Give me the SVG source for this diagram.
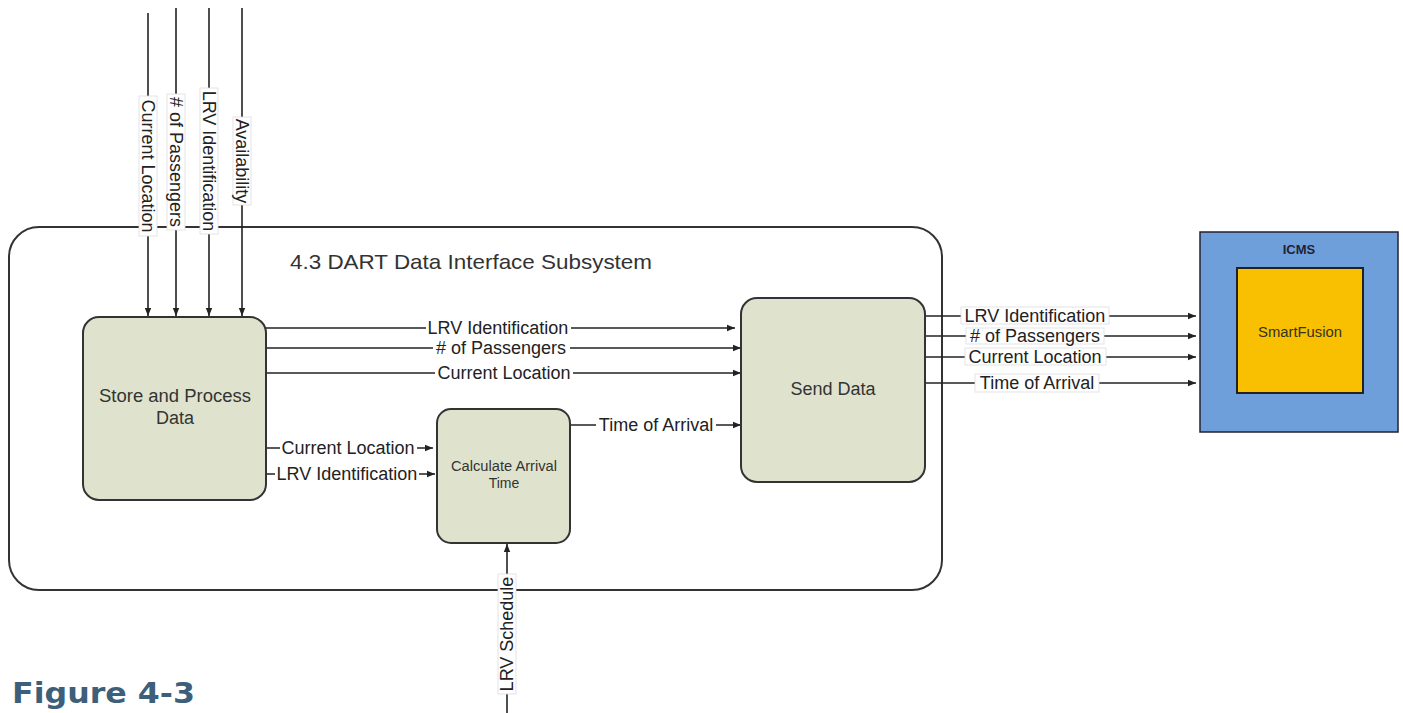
<svg xmlns="http://www.w3.org/2000/svg" width="1403" height="713" viewBox="0 0 1403 713">
<style>
.box{fill:#dfe3cd;stroke:#333;stroke-width:2}
.ln{stroke:#222;stroke-width:1.6;fill:none}
.lb{font-family:"Liberation Sans",Arial,sans-serif;font-size:18px;fill:#222;text-anchor:middle}
.bg{fill:#fff;stroke:#ddd;stroke-width:0.8}
.nt{font-family:"Liberation Sans",Arial,sans-serif;fill:#333;text-anchor:middle}
</style>
<defs>
<marker id="ah" viewBox="0 0 10 10" refX="10" refY="5" markerWidth="8" markerHeight="8" markerUnits="userSpaceOnUse" orient="auto">
<path d="M0,1 L10,5 L0,9 z" fill="#222"/>
</marker>
</defs>
<rect width="1403" height="713" fill="#fff"/>

<g id="subsystem">
<rect x="9" y="227" width="933" height="363" rx="30" fill="none" stroke="#333" stroke-width="2"/>
<text x="290" y="269" class="nt" style="font-size:21px;text-anchor:start;fill:#333" textLength="362" lengthAdjust="spacingAndGlyphs">4.3 DART Data Interface Subsystem</text>
</g>

<g id="connectors">
<!-- top inputs -->
<line class="ln" x1="148" y1="13" x2="148" y2="316" marker-end="url(#ah)"/>
<line class="ln" x1="176" y1="8" x2="176" y2="316" marker-end="url(#ah)"/>
<line class="ln" x1="209" y1="8" x2="209" y2="316" marker-end="url(#ah)"/>
<line class="ln" x1="242" y1="8" x2="242" y2="316" marker-end="url(#ah)"/>
<g transform="translate(148,166) rotate(90)"><rect class="bg" x="-70" y="-9" width="140" height="18"/><text class="lb" x="0" y="6">Current Location</text></g>
<g transform="translate(176,162) rotate(90)"><rect class="bg" x="-68" y="-9" width="136" height="18"/><text class="lb" x="0" y="6"># of Passengers</text></g>
<g transform="translate(209,161) rotate(90)"><rect class="bg" x="-73" y="-9" width="146" height="18"/><text class="lb" x="0" y="6">LRV Identification</text></g>
<g transform="translate(242,161) rotate(90)"><rect class="bg" x="-44" y="-9" width="88" height="18"/><text class="lb" x="0" y="6">Availability</text></g>

<!-- store -> send -->
<line class="ln" x1="266" y1="328" x2="735" y2="328" marker-end="url(#ah)"/>
<line class="ln" x1="266" y1="348" x2="741" y2="348" marker-end="url(#ah)"/>
<line class="ln" x1="266" y1="373" x2="741" y2="373" marker-end="url(#ah)"/>
<rect class="bg" x="426" y="320" width="145" height="16" style="stroke:none"/><text class="lb" x="498" y="334">LRV Identification</text>
<rect class="bg" x="433" y="340" width="137" height="16" style="stroke:none"/><text class="lb" x="501" y="354"># of Passengers</text>
<rect class="bg" x="435" y="365" width="138" height="16" style="stroke:none"/><text class="lb" x="504" y="379">Current Location</text>

<!-- store -> calc -->
<line class="ln" x1="266" y1="448" x2="433" y2="448" marker-end="url(#ah)"/>
<line class="ln" x1="266" y1="474" x2="435" y2="474" marker-end="url(#ah)"/>
<rect class="bg" x="280" y="440" width="137" height="16" style="stroke:none"/><text class="lb" x="348" y="454">Current Location</text>
<rect class="bg" x="275" y="466" width="144" height="16" style="stroke:none"/><text class="lb" x="347" y="480">LRV Identification</text>

<!-- calc -> send -->
<line class="ln" x1="570" y1="425" x2="741" y2="425" marker-end="url(#ah)"/>
<rect class="bg" x="596" y="417" width="120" height="16" style="stroke:none"/><text class="lb" x="656" y="431">Time of Arrival</text>

<!-- schedule -> calc -->
<line class="ln" x1="507" y1="713" x2="507" y2="544" marker-end="url(#ah)"/>
<g transform="translate(507,634) rotate(-90)"><rect class="bg" x="-60" y="-9" width="120" height="18"/><text class="lb" x="0" y="6">LRV Schedule</text></g>

<!-- send -> ICMS -->
<line class="ln" x1="925" y1="316" x2="1196" y2="316" marker-end="url(#ah)"/>
<line class="ln" x1="925" y1="336" x2="1196" y2="336" marker-end="url(#ah)"/>
<line class="ln" x1="925" y1="357" x2="1196" y2="357" marker-end="url(#ah)"/>
<line class="ln" x1="925" y1="383" x2="1196" y2="383" marker-end="url(#ah)"/>
<rect class="bg" x="961" y="307" width="148" height="17"/><text class="lb" x="1035" y="322">LRV Identification</text>
<rect class="bg" x="966" y="328" width="138" height="16"/><text class="lb" x="1035" y="342"># of Passengers</text>
<rect class="bg" x="965" y="348" width="141" height="17"/><text class="lb" x="1035" y="363">Current Location</text>
<rect class="bg" x="975" y="374" width="124" height="18"/><text class="lb" x="1037" y="389">Time of Arrival</text>
</g>

<g id="store">
<rect class="box" x="83" y="317" width="183" height="183" rx="16"/>
<text class="nt" x="175" y="402" style="font-size:18px" textLength="152" lengthAdjust="spacingAndGlyphs">Store and Process</text>
<text class="nt" x="175" y="424" style="font-size:18px">Data</text>
</g>

<g id="calc">
<rect class="box" x="437" y="409" width="133" height="134" rx="14"/>
<text class="nt" x="504" y="471" style="font-size:14px" textLength="106" lengthAdjust="spacingAndGlyphs">Calculate Arrival</text>
<text class="nt" x="504" y="488" style="font-size:14px">Time</text>
</g>

<g id="send">
<rect class="box" x="741" y="298" width="184" height="184" rx="16"/>
<text class="nt" x="833" y="395" style="font-size:18px">Send Data</text>
</g>

<g id="icms">
<rect x="1200" y="232" width="198" height="200" fill="#6f9fdb" stroke="#223" stroke-width="1.5"/>
<text class="nt" x="1299" y="254" style="font-size:13px;font-weight:bold;fill:#223">ICMS</text>
<rect x="1237" y="268" width="126" height="125" fill="#f8c000" stroke="#222" stroke-width="2"/>
<text class="nt" x="1300" y="337" style="font-size:14px;fill:#332" textLength="84" lengthAdjust="spacingAndGlyphs">SmartFusion</text>
</g>

<text x="12" y="703" style="font-family:'DejaVu Sans',Verdana,sans-serif;font-size:29px;font-weight:bold;fill:#3d5f7a" textLength="183" lengthAdjust="spacingAndGlyphs">Figure 4-3</text>
</svg>
